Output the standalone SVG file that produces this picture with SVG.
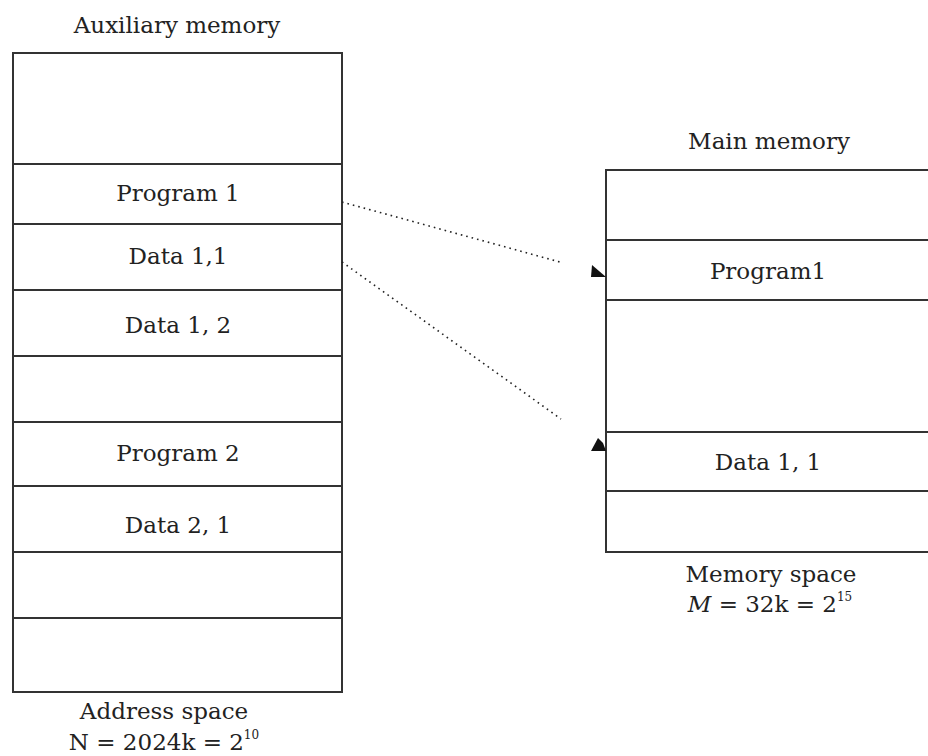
<svg xmlns="http://www.w3.org/2000/svg" width="928" height="756" viewBox="0 0 928 756">
<style>
.box{fill:#fff;stroke:#333;stroke-width:2}
.div{stroke:#333;stroke-width:2}
text{font-family:"DejaVu Serif","Liberation Serif",serif;font-size:23px;fill:#222;text-anchor:middle}
.conn{stroke:#222;stroke-width:1.6;fill:none;stroke-dasharray:1.6 4}
.head{fill:#111}
</style>
<rect width="928" height="756" fill="#fff"/>
<g id="auxiliary-memory">
<text x="177" y="33">Auxiliary memory</text>
<rect class="box" x="13" y="53" width="329" height="639"/>
<line class="div" x1="13" y1="164" x2="342" y2="164"/>
<line class="div" x1="13" y1="224" x2="342" y2="224"/>
<line class="div" x1="13" y1="290" x2="342" y2="290"/>
<line class="div" x1="13" y1="356" x2="342" y2="356"/>
<line class="div" x1="13" y1="422" x2="342" y2="422"/>
<line class="div" x1="13" y1="486" x2="342" y2="486"/>
<line class="div" x1="13" y1="552" x2="342" y2="552"/>
<line class="div" x1="13" y1="618" x2="342" y2="618"/>
<text x="178" y="201">Program 1</text>
<text x="178" y="264">Data 1,1</text>
<text x="178" y="333">Data 1, 2</text>
<text x="178" y="461">Program 2</text>
<text x="178" y="533">Data 2, 1</text>
<text x="164" y="719">Address space</text>
<text x="164" y="750">N = 2024k = 2<tspan font-size="12" dy="-11">10</tspan></text>
</g>
<g id="main-memory">
<text x="769" y="149">Main memory</text>
<rect class="box" x="606" y="170" width="340" height="382"/>
<line class="div" x1="606" y1="240" x2="946" y2="240"/>
<line class="div" x1="606" y1="300" x2="946" y2="300"/>
<line class="div" x1="606" y1="432" x2="946" y2="432"/>
<line class="div" x1="606" y1="491" x2="946" y2="491"/>
<text x="768" y="279">Program1</text>
<text x="768" y="470">Data 1, 1</text>
<text x="771" y="582">Memory space</text>
<text x="770" y="612"><tspan font-style="italic">M</tspan> = 32k = 2<tspan font-size="12" dy="-11">15</tspan></text>
</g>
<g id="connectors">
<line class="conn" x1="342" y1="202" x2="560" y2="262"/>
<line class="conn" x1="342" y1="262" x2="561" y2="419"/>
<polygon class="head" points="592,265 606,277 591,277"/>
<polygon class="head" points="598,438 603,443 606,451 591,451"/>
</g>
</svg>
